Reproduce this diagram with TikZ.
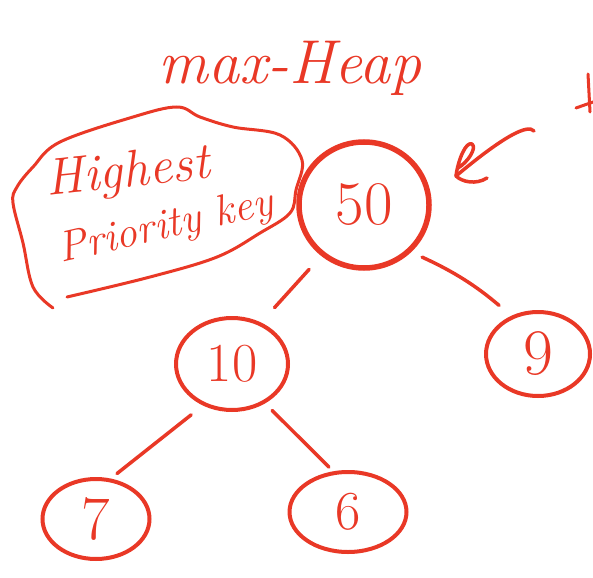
\documentclass[tikz,border=0pt]{standalone}
\usepackage{fontspec}
\usetikzlibrary{shapes.geometric}
\definecolor{ink}{RGB}{233,56,38}
\begin{document}
\begin{tikzpicture}[x=1pt,y=-1pt,
  key/.style={ellipse,draw=ink,line width=4pt,inner sep=0pt,text=ink,font=\fontsize{55}{60}\selectfont},
  link/.style={draw=ink,line width=3.5pt,line cap=round,line join=round},
  script/.style={text=ink,inner sep=0pt}]
\useasboundingbox (0,0) rectangle (593,577);
% title
\node[script,font=\itshape\fontsize{62}{70}\selectfont] (title) at (290,68) {max-Heap};
% tree
\node[key,line width=5.5pt,minimum width=130pt,minimum height=126pt,font=\fontsize{62}{70}\selectfont] (n50) at (364,205) {50};
\node[key,minimum width=112pt,minimum height=92pt] (n10) at (232,364) {10};
\node[key,minimum width=104pt,minimum height=84pt,font=\fontsize{65}{70}\selectfont] (n9) at (538,354) {9};
\node[key,minimum width=107pt,minimum height=80pt,font=\fontsize{62}{70}\selectfont] (n7) at (96,519) {7};
\node[key,minimum width=117pt,minimum height=80pt] (n6) at (348,512) {6};
\draw[link,shorten <=18pt,shorten >=20pt] (n50.-130) -- (n10.55);
\draw[link,shorten <=12pt,shorten >=16pt] (n50.-45) to[bend left=8] (n9.125);
\draw[link,shorten <=15pt,shorten >=8pt] (n10.-125) -- (n7.70);
\draw[link,shorten <=10pt,shorten >=6pt] (n10.-50) -- (n6.110);
% bubble
\draw[link,line width=3pt] plot[smooth,tension=0.6] coordinates {(53,308) (33,287) (23,243) (13,203) (17,187) (33,167) (60,142) (133,117) (177,107) (200,117) (233,127) (280,135) (302,160) (296,190) (290,213) (260,233) (217,257) (150,277) (67,297)};
\node[script,font=\itshape\fontsize{52}{60}\selectfont,rotate=6] (hi) at (128,174) {Highest};
\node[script,font=\itshape\fontsize{43}{50}\selectfont,rotate=13] (pk) at (166,228) {Priority key};
% arrow
\coordinate (atail) at (534,131);
\coordinate (ahead) at (456,176);
\draw[link,line width=3.5pt] (atail) .. controls (528,124) and (505,135) .. (ahead);
\draw[link,line width=3.5pt] (ahead) .. controls (458,160) and (466,141) .. (472,144) .. controls (477,148) and (468,162) .. (458,168);
\draw[link,line width=3.5pt] (ahead) .. controls (462,182) and (476,185) .. (487,178);
% cut-off letter at the right edge
\coordinate (fa) at (588,74);
\coordinate (fb) at (590,112);
\coordinate (fc) at (576,108);
\coordinate (fd) at (593,102);
\draw[link,line width=3pt] (fa) -- (fb);
\draw[link,line width=3pt] (fc) -- (fd);
\end{tikzpicture}
\end{document}
